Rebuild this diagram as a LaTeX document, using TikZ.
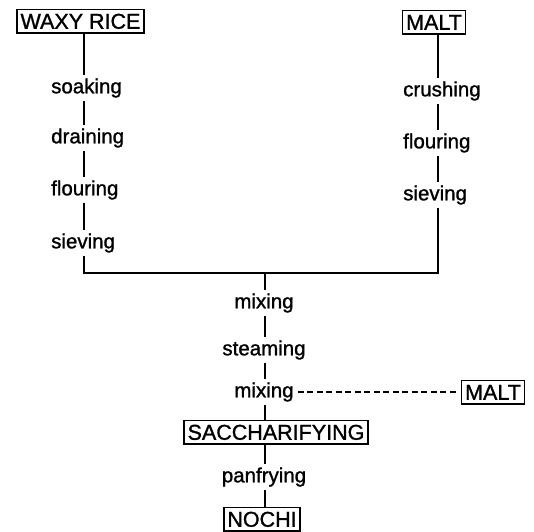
\documentclass[tikz,border=0pt]{standalone}
\usepackage{fontspec}
\setmainfont{Liberation Sans}[BoldFont={Liberation Sans},BoldFeatures={FakeBold=1.2}]
\begin{document}
\begin{tikzpicture}[x=1pt,y=-1pt,
  boxnode/.style={draw,line width=1.5pt,inner xsep=3.5pt,inner ysep=4pt,
    text height=15.5pt,text depth=0pt,font=\fontsize{21.5}{22}\selectfont\bfseries},
  stepnode/.style={inner xsep=1pt,inner ysep=3pt,font=\fontsize{20.5}{22}\selectfont\bfseries},
  conn/.style={line width=1.5pt},
  dconn/.style={line width=1.5pt,dash pattern=on 6pt off 3.5pt,shorten <=3pt,shorten >=3pt}]
\useasboundingbox (0,0) rectangle (534,531);
% left chain
\node[boxnode] (wr) at (80.5,21) {WAXY RICE};
\coordinate (Lx) at (84,0);
\node[stepnode,anchor=west] (soak) at (50,88) {soaking};
\node[stepnode,anchor=west] (drain) at (50,138) {draining};
\node[stepnode,anchor=west] (lflour) at (50,190) {flouring};
\node[stepnode,anchor=west] (lsiev) at (50,243) {sieving};
% right chain
\node[boxnode] (malta) at (434,22) {MALT};
\coordinate (Rx) at (438,0);
\node[stepnode,anchor=west] (crush) at (402,91) {crushing};
\node[stepnode,anchor=west] (rflour) at (402,143) {flouring};
\node[stepnode,anchor=west] (rsiev) at (402,195) {sieving};
% middle chain
\coordinate (J) at (265,273);
\coordinate (Mx) at (265,0);
\node[stepnode] (mixa) at (264,303) {mixing};
\node[stepnode] (steam) at (264,350) {steaming};
\node[stepnode] (mixb) at (264,392) {mixing};
\node[boxnode] (maltb) at (493,392) {MALT};
\node[boxnode] (sacc) at (276,432) {SACCHARIFYING};
\node[stepnode] (panf) at (264,477) {panfrying};
\node[boxnode] (nochi) at (262,519) {NOCHI};
% connectors
\draw[conn] (wr.south -| Lx) -- (soak.north -| Lx);
\draw[conn] (soak.south -| Lx) -- (drain.north -| Lx);
\draw[conn] (drain.south -| Lx) -- (lflour.north -| Lx);
\draw[conn] (lflour.south -| Lx) -- (lsiev.north -| Lx);
\draw[conn] (malta.south -| Rx) -- (crush.north -| Rx);
\draw[conn] (crush.south -| Rx) -- (rflour.north -| Rx);
\draw[conn] (rflour.south -| Rx) -- (rsiev.north -| Rx);
\draw[conn] (lsiev.south -| Lx) |- (J) -| (rsiev.south -| Rx);
\draw[conn] (J) -- (mixa.north -| Mx);
\draw[conn] (mixa.south -| Mx) -- (steam.north -| Mx);
\draw[conn] (steam.south -| Mx) -- (mixb.north -| Mx);
\draw[conn] (mixb.south -| Mx) -- (sacc.north -| Mx);
\draw[conn] (sacc.south -| Mx) -- (panf.north -| Mx);
\draw[conn] (panf.south -| Mx) -- (nochi.north -| Mx);
\draw[dconn] (mixb.east) -- (maltb.west);
\end{tikzpicture}
\end{document}
